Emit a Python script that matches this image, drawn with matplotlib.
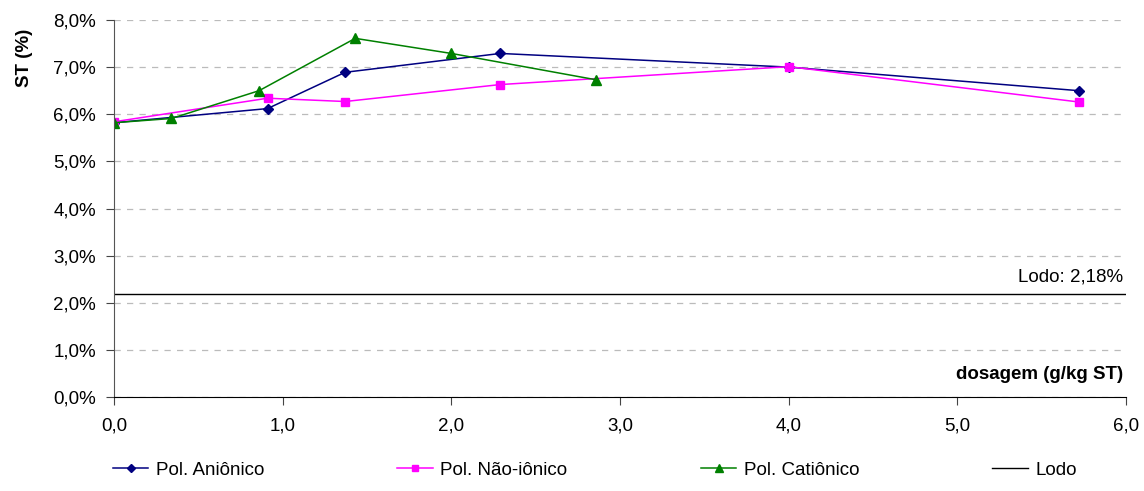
import matplotlib
matplotlib.use("Agg")
import matplotlib.pyplot as plt
from matplotlib.ticker import FuncFormatter

plt.rcParams['font.family'] = ['Liberation Sans', 'DejaVu Sans']

# Pol. Aniônico / Não-iônico share the same dosages
dose_an = [0.0, 0.91, 1.37, 2.29, 4.0, 5.72]
st_an = [5.82, 6.12, 6.89, 7.29, 7.0, 6.5]

dose_ni = [0.0, 0.91, 1.37, 2.29, 4.0, 5.72]
st_ni = [5.84, 6.34, 6.27, 6.63, 7.01, 6.26]

dose_cat = [0.0, 0.34, 0.86, 1.43, 2.0, 2.86]
st_cat = [5.82, 5.91, 6.5, 7.61, 7.29, 6.73]

lodo = 2.18

fig = plt.figure(figsize=(11.44, 4.91), dpi=100)
ax = fig.add_axes([0.0997, 0.1914, 0.8846, 0.7679])

ax.plot(dose_an, st_an, color="#000080", marker="D", markersize=5,
        linewidth=1.1, label="Pol. Aniônico")
ax.plot(dose_ni, st_ni, color="#FF00FF", marker="s", markersize=6,
        linewidth=1.1, label="Pol. Não-iônico")
ax.plot(dose_cat, st_cat, color="#008000", marker="^", markersize=7,
        linewidth=1.1, label="Pol. Catiônico")
ax.axhline(lodo, color="black", linewidth=1.0, label="Lodo")
ax.text(5.98, lodo + 0.18, "Lodo: " + f"{lodo:.2f}".replace(".", ",") + "%",
        ha="right", va="bottom", fontsize=13.5)

ax.set_xlim(0, 6)
ax.set_ylim(0, 8)
ax.set_xticks(range(0, 7))
ax.set_yticks(range(0, 9))
ax.xaxis.set_major_formatter(FuncFormatter(lambda v, p: f"{v:.1f}".replace(".", ",")))
ax.yaxis.set_major_formatter(FuncFormatter(lambda v, p: f"{v:.1f}".replace(".", ",") + "%"))
ax.tick_params(labelsize=13.5, length=6, color="#444444")
ax.tick_params(axis="x", pad=9)
ax.tick_params(axis="y", pad=7)

ax.yaxis.grid(True, linestyle=(0, (5, 5)), color="#BBBBBB", linewidth=0.9)
ax.set_axisbelow(True)
for s in ["top", "right"]:
    ax.spines[s].set_visible(False)
ax.spines["left"].set_color("#555555")

ax.set_ylabel("ST (%)", fontsize=13.5, fontweight="bold")
ax.yaxis.set_label_coords(-0.08, 0.9)
ax.text(5.98, 0.3, "dosagem (g/kg ST)", ha="right", va="bottom",
        fontsize=13.5, fontweight="bold")

fig.legend(loc="lower center", ncol=4, frameon=False, fontsize=13.5,
           bbox_to_anchor=(0.52, -0.01), columnspacing=7.1, handlelength=1.9,
           handletextpad=0.4, markerscale=0.8)

fig.savefig("out.png", dpi=100)
